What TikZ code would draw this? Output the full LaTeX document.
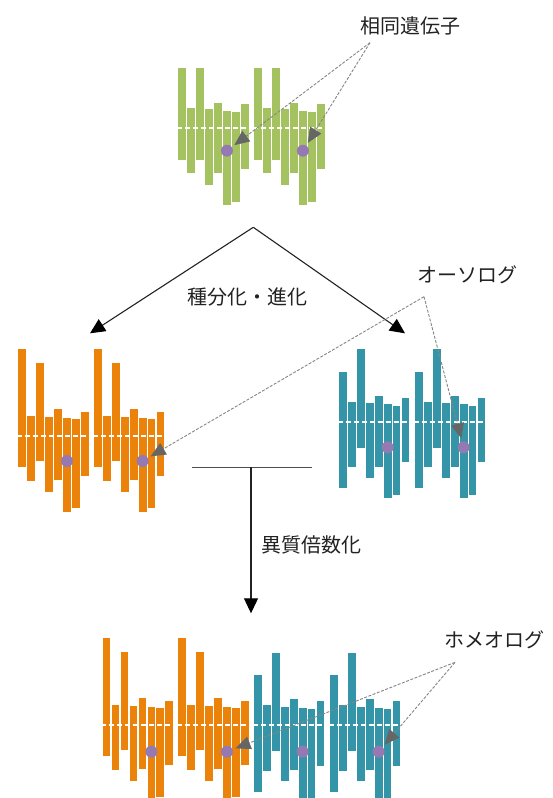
\documentclass[tikz,border=0pt]{standalone}
\usepackage{fontspec}
\newfontfamily\jpfont{Noto Sans CJK JP}
\usetikzlibrary{arrows.meta}

\definecolor{leafgreen}{HTML}{A5C261}
\definecolor{hotorange}{HTML}{EB820A}
\definecolor{seateal}{HTML}{3595A8}
\definecolor{genepurple}{HTML}{9479B3}
\definecolor{leadergray}{HTML}{858585}
\definecolor{headgray}{HTML}{666666}
\definecolor{inkgray}{HTML}{222222}

\tikzset{
  chrombar/.style={fill=#1},
  midline/.style={draw=white, line width=2pt, dash pattern=on 5pt off 3pt},
  genedot/.style={circle, fill=genepurple, inner sep=0pt, minimum size=12pt},
  leader/.style={draw=leadergray, line width=0.9pt, dash pattern=on 3pt off 1.5pt,
    shorten >=3pt, -{Triangle[length=15pt,width=13pt,color=headgray]}},
  flow/.style={draw=inkgray, line width=1.1pt, -{Triangle[length=15pt,width=14pt,color=black]}},
  tbar/.style={draw=inkgray!80, line width=1.1pt},
  lbl/.style={font=\jpfont\fontsize{20}{24}\selectfont, text=inkgray, inner sep=0pt, anchor=west}
}

% one gene copy: #1 node name, #2 left x, #3 dash line y, #4 colour,
% #5 macro holding bar top/bottom offsets from the dash line, #6 offset of the gene dot
\newcommand{\genecopy}[6]{%
  \foreach \tp/\bt [count=\i from 0] in #5 {
    \fill[chrombar=#4] ({#2+\i*8.96},{#3+\tp}) rectangle ++(7.7,{\bt-\tp});
  }
  \draw[midline] ({#2-1.5},#3) -- ({#2+74.2},#3);
  \node[genedot] (#1) at ({#2+5*8.96+3.85},{#3+#6}) {};
}

\newcommand{\greenbars}{-60/31.7, -20/44.7, -60/31.7, -19/56.7, -25.6/44.7, -17.6/76.7, -16.6/73.4, -24.3/41}
\newcommand{\orangebars}{-86.7/31.3, -20/45, -72.7/25, -18.7/55.7, -26.7/44, -17.7/76.3, -17/72.3, -24.3/40}
\newcommand{\tealbars}{-50/66.6, -20/45.6, -72.4/26, -18.4/56, -26/45, -17.4/76.6, -16/73.3, -24/40.6}

\begin{document}
\begin{tikzpicture}[x=1pt, y=-1pt]
  \useasboundingbox (0,0) rectangle (553,798);
  \clip (0,0) rectangle (553,798);

  % ancestral genome
  \genecopy{gA}{178.3}{128.3}{leafgreen}{\greenbars}{22.4}
  \genecopy{gB}{254.3}{128.3}{leafgreen}{\greenbars}{22.4}

  % two species after divergence
  \genecopy{oA}{18.3}{436}{hotorange}{\orangebars}{25}
  \genecopy{oB}{94}{436}{hotorange}{\orangebars}{25}
  \genecopy{tA}{339}{421.7}{seateal}{\tealbars}{25.6}
  \genecopy{tB}{415}{421.7}{seateal}{\tealbars}{25.6}

  % allopolyploid genome
  \genecopy{pA}{102.7}{725}{hotorange}{\orangebars}{26.7}
  \genecopy{pB}{178.3}{725}{hotorange}{\orangebars}{26.7}
  \genecopy{pC}{254}{725}{seateal}{\tealbars}{26.7}
  \genecopy{pD}{330}{725}{seateal}{\tealbars}{26.7}

  % process arrows
  \coordinate (apex) at (253.3,227.3);
  \coordinate (leftend) at (90,333.3);
  \coordinate (rightend) at (405,333.3);
  \draw[flow] (apex) -- (leftend);
  \draw[flow] (apex) -- (rightend);

  \coordinate (joinL) at (191.7,467.3);
  \coordinate (joinR) at (311.7,467.3);
  \coordinate (joinM) at (251,467.3);
  \coordinate (mergeend) at (251,613.3);
  \draw[tbar] (joinL) -- (joinR);
  \draw[flow] (joinM) -- (mergeend);

  % labels
  \node[lbl] (homolog) at (360.5,25.8) {相同遺伝子};
  \node[lbl] (speciation) at (187.5,296.7) {種分化・進化};
  \node[lbl] (ortholog) at (417,275) {オーソログ};
  \node[lbl] (allopoly) at (261,545) {異質倍数化};
  \node[lbl] (homeolog) at (444,640) {ホメオログ};

  % dashed leaders from each label to its genes
  \coordinate (homfork) at (370,42.7);
  \draw[leader] (homfork) -- (gA);
  \draw[leader] (homfork) -- (gB);

  \coordinate (orthfork) at (424,296.7);
  \draw[leader] (orthfork) -- (oB);
  \draw[leader] (orthfork) -- (tB);

  \coordinate (homeofork) at (455,662.3);
  \draw[leader] (homeofork) -- (pB);
  \draw[leader] (homeofork) -- (pD);
\end{tikzpicture}
\end{document}
